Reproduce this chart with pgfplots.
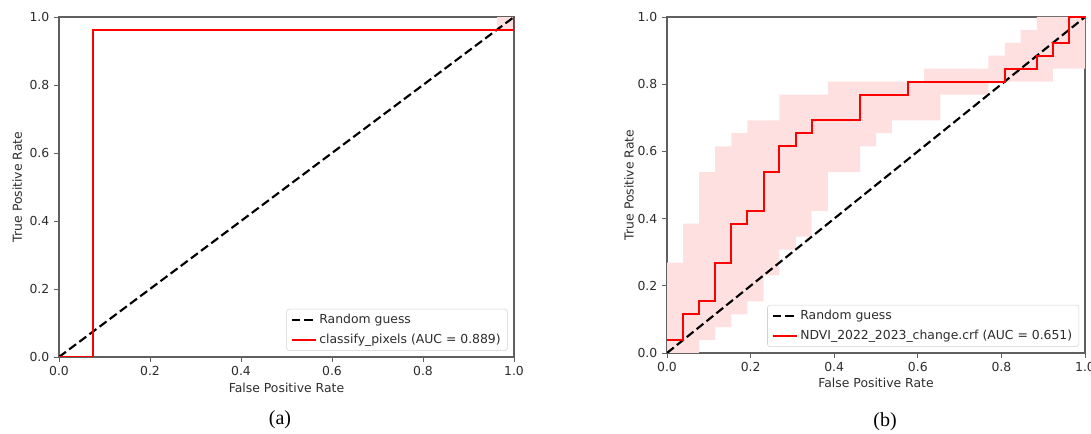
\documentclass[border=0pt]{standalone}
\usepackage{fontspec}
\setmainfont{DejaVu Sans}
\newfontfamily\capfont{Liberation Serif}
\usepackage{pgfplots}
\pgfplotsset{compat=1.18}
\definecolor{spine}{RGB}{95,95,95}
\definecolor{band}{RGB}{255,224,224}
\definecolor{txt}{RGB}{45,45,45}
\definecolor{legbord}{RGB}{210,210,210}
\newcommand{\tf}{\fontsize{9.3}{11}\selectfont}
\pgfplotsset{
 rocstyle/.style={
  scale only axis, xmin=0, xmax=1, ymin=0, ymax=1,
  xtick={0,0.2,0.4,0.6,0.8,1.0}, ytick={0,0.2,0.4,0.6,0.8,1.0},
  xtick pos=left, ytick pos=left,
  tick align=outside, major tick length=3.75pt,
  tick style={spine, line width=0.6pt},
  axis line style={spine, line width=0.8pt},
  ticklabel style={font=\tf, text=txt},
  /pgf/number format/fixed, /pgf/number format/fixed zerofill,
  /pgf/number format/precision=1, /pgf/number format/assume math mode=true,
  label style={font=\tf, text=txt},
  xlabel={False Positive Rate}, ylabel={True Positive Rate},
  legend cell align=left,
  legend image code/.code={\draw[##1] (0pt,0pt) -- (18pt,0pt);},
  legend style={at={(axis description cs:0.986,0.018)}, anchor=south east,
    draw=legbord, rounded corners=2pt, fill=white, font=\tf, text=txt,
    inner xsep=3pt, inner ysep=2pt, row sep=2pt},
 },
 rnd/.style={black, line width=1.6pt, dash pattern=on 6.5pt off 3pt},
 roc/.style={red, line width=1.5pt},
}
\begin{document}
\begin{tikzpicture}[x=1pt,y=1pt]
\useasboundingbox (0,0) rectangle (818.25,325.5);
% ---------- (a) ----------
\begin{axis}[rocstyle, at={(44.25pt,57.75pt)}, anchor=south west,
  width=341.25pt, height=255pt,
  xlabel style={at={(axis description cs:0.5,-0.09)}, anchor=center},
  ylabel style={at={(axis description cs:-0.092,0.5)}, anchor=center}]
\addplot[fill=band, draw=none, forget plot] coordinates {(0.963,0.963) (1,0.963) (1,1) (0.963,1)} -- cycle;
\addplot[rnd] coordinates {(0,0) (1,1)};
\addlegendentry{Random guess}
\addplot[roc] coordinates {(0,0) (0.074,0) (0.074,0.963) (1,0.963) (1,1)};
\addlegendentry{classify\_pixels (AUC = 0.889)}
\end{axis}
\node[font=\capfont\fontsize{15}{17}\selectfont] at (210,10.5) {(a)};
% ---------- (b) ----------
\begin{axis}[rocstyle, at={(500.25pt,60.75pt)}, anchor=south west,
  width=313.5pt, height=252pt,
  xlabel style={at={(axis description cs:0.5,-0.089)}, anchor=center},
  ylabel style={at={(axis description cs:-0.091,0.5)}, anchor=center}]
\addplot[fill=band, draw=none, forget plot] coordinates {
 (0,0.269) (0.0385,0.269) (0.0385,0.385) (0.077,0.385) (0.077,0.538)
 (0.115,0.538) (0.115,0.615) (0.154,0.615) (0.154,0.654) (0.192,0.654)
 (0.192,0.692) (0.269,0.692) (0.269,0.769) (0.385,0.769) (0.385,0.808)
 (0.615,0.808) (0.615,0.846) (0.769,0.846) (0.769,0.885) (0.808,0.885)
 (0.808,0.923) (0.846,0.923) (0.846,0.962) (0.885,0.962) (0.885,1.0) (1.0,1.0)
 (1.0,0.846) (0.923,0.846) (0.923,0.808) (0.769,0.808) (0.769,0.769)
 (0.654,0.769) (0.654,0.692) (0.538,0.692) (0.538,0.654) (0.5,0.654)
 (0.5,0.615) (0.462,0.615) (0.462,0.538) (0.385,0.538) (0.385,0.423)
 (0.346,0.423) (0.346,0.346) (0.308,0.346) (0.308,0.308) (0.269,0.308)
 (0.269,0.231) (0.231,0.231) (0.231,0.154) (0.192,0.154) (0.192,0.115)
 (0.154,0.115) (0.154,0.077) (0.115,0.077) (0.115,0.0385) (0.077,0.0385)
 (0.077,0) (0,0)} -- cycle;
\addplot[rnd] coordinates {(0,0) (1,1)};
\addlegendentry{Random guess}
\addplot[roc] coordinates {
 (0,0.0385) (0.0385,0.0385) (0.0385,0.115) (0.077,0.115) (0.077,0.154)
 (0.115,0.154) (0.115,0.269) (0.154,0.269) (0.154,0.385) (0.192,0.385)
 (0.192,0.423) (0.231,0.423) (0.231,0.538) (0.269,0.538) (0.269,0.615)
 (0.308,0.615) (0.308,0.654) (0.346,0.654) (0.346,0.692) (0.462,0.692)
 (0.462,0.769) (0.577,0.769) (0.577,0.808) (0.808,0.808) (0.808,0.846)
 (0.885,0.846) (0.885,0.885) (0.923,0.885) (0.923,0.923) (0.962,0.923)
 (0.962,1.0) (1.0,1.0)};
\addlegendentry{NDVI\_2022\_2023\_change.crf (AUC = 0.651)}
\end{axis}
\node[font=\capfont\fontsize{15}{17}\selectfont] at (663.75,9.2) {(b)};
\end{tikzpicture}
\end{document}
